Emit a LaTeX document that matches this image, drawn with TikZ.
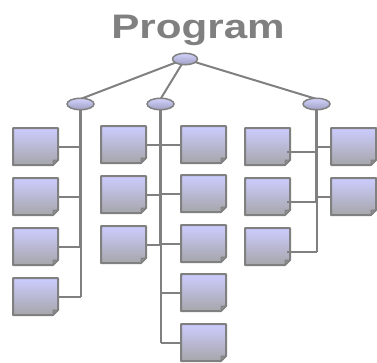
\documentclass[tikz,border=0pt]{standalone}
\usepackage{fontspec}
\setmainfont{Liberation Sans}
\usetikzlibrary{shapes.geometric,calc}

\definecolor{linegray}{RGB}{128,128,128}
\definecolor{foldgray}{RGB}{140,140,145}
\definecolor{lavtop}{RGB}{204,204,255}
\definecolor{lavbot}{RGB}{166,166,170}
\definecolor{elltop}{RGB}{210,210,252}
\definecolor{ellbot}{RGB}{160,160,196}

\tikzset{
  docnode/.style={rectangle, minimum width=45pt, minimum height=37pt,
    inner sep=0pt, outer sep=0pt, draw=none},
  docfill/.style={top color=lavtop, bottom color=lavbot},
  docline/.style={draw=linegray, line width=2pt, line join=round},
  foldfill/.style={fill=foldgray, draw=linegray, line width=1pt, line join=round},
  hub/.style={ellipse, minimum width=25pt, minimum height=11.5pt, inner sep=0pt,
    draw=linegray, line width=1.5pt, top color=elltop, bottom color=ellbot},
  link/.style={draw=linegray, line width=2pt},
  trunk/.style={draw=linegray, line width=3pt},
  branch/.style={draw=linegray, line width=2pt},
  title/.style={text=linegray, anchor=base, inner sep=0pt,
    font=\fontsize{34}{34}\selectfont\bfseries},
}

% document box with a folded bottom-right corner: name, left, top
\newcommand\docbox[3]{%
  \node[docnode, anchor=north west] (#1) at (#2+1,#3+1) {};
  \shade[docfill] (#1.north west) -- (#1.north east) -- ([yshift=5pt]#1.south east)
    -- ([xshift=-5pt]#1.south east) -- (#1.south west) -- cycle;
  \path[docline] (#1.north west) -- (#1.north east) -- ([yshift=5pt]#1.south east)
    -- ([xshift=-5pt]#1.south east) -- (#1.south west) -- cycle;
  \path[foldfill] ([xshift=-5pt]#1.south east) -- ([xshift=-5pt,yshift=5pt]#1.south east)
    -- ([yshift=5pt]#1.south east) -- cycle;
}

\begin{document}
\begin{tikzpicture}[x=1pt, y=-1pt]
\useasboundingbox (0,0) rectangle (377,362);

% title
\node[title] (title) at (198,38.3) {\scalebox{1.24}[1]{Program}};

% hub positions
\coordinate (pT) at (185,59);
\coordinate (pL) at (80.5,104);
\coordinate (pM) at (160.5,104);
\coordinate (pR) at (316.5,104);

% links from the root hub to the three group hubs
\draw[link] (pT) -- ([yshift=5pt]pL);
\draw[link] (pT) -- ([yshift=5pt]pM);
\draw[link] (pT) -- ([yshift=5pt]pR);

% documents of the left group
\docbox{a1}{12}{127}
\docbox{a2}{12}{177}
\docbox{a3}{12}{227}
\docbox{a4}{12}{277}

% documents of the middle group
\docbox{m1}{100}{125}
\docbox{m2}{100}{175}
\docbox{m3}{100}{225}
\docbox{n1}{180}{125}
\docbox{n2}{180}{174}
\docbox{n3}{180}{224}
\docbox{n4}{180}{273}
\docbox{n5}{180}{323}

% documents of the right group
\docbox{r1}{244}{127}
\docbox{r2}{244}{177}
\docbox{r3}{244}{227}
\docbox{s1}{330}{127}
\docbox{s2}{330}{177}

% connection points inside the left column of the right group
\coordinate (r1c) at ([shift={(-3,5)}]r1.east);
\coordinate (r2c) at ([shift={(-3,5)}]r2.east);
\coordinate (r3c) at ([shift={(-3,5)}]r3.east);

% left group trunk and branches
\draw[trunk] (pL) -- (pL |- a3.east);
\draw[branch] (pL |- a3.east) -- (pL |- a4.east);
\foreach \b in {a1,a2,a3,a4} \draw[branch] (\b.east) -- (pL |- \b.east);

% middle group trunk and branches
\draw[trunk] (pM) -- (pM |- m3.east);
\draw[branch] (pM |- m3.east) -- (pM |- n5.west);
\foreach \b in {m1,m2,m3} \draw[branch] (\b.east) -- (pM |- \b.east);
\foreach \b in {n1,n2,n3,n4,n5} \draw[branch] (pM |- \b.west) -- (\b.west);

% right group trunk and branches
\draw[trunk] (pR) -- (pR |- r2c);
\draw[branch] (pR |- r2c) -- (pR |- r3c);
\foreach \b in {r1c,r2c,r3c} \draw[branch] (\b) -- (pR |- \b);
\foreach \b in {s1,s2} \draw[branch] (pR |- \b.west) -- (\b.west);

% hubs
\node[hub] (top) at (pT) {};
\node[hub, minimum width=27pt] (hl) at (pL) {};
\node[hub, minimum width=27pt] (hm) at (pM) {};
\node[hub, minimum width=27pt] (hr) at (pR) {};
\end{tikzpicture}
\end{document}
